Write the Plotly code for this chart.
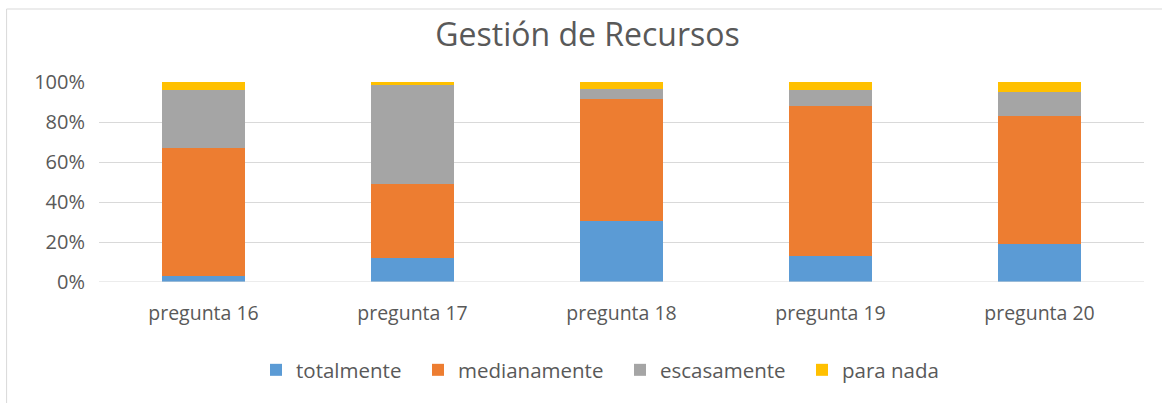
import plotly.graph_objects as go

categories = ["pregunta 16", "pregunta 17", "pregunta 18", "pregunta 19", "pregunta 20"]
totalmente = [0.03, 0.12, 0.305, 0.13, 0.19]
medianamente = [0.64, 0.37, 0.61, 0.75, 0.64]
escasamente = [0.29, 0.495, 0.05, 0.08, 0.12]
para_nada = [0.04, 0.015, 0.035, 0.04, 0.05]

series_names = ["totalmente", "medianamente", "escasamente", "para nada"]
series_values = [totalmente, medianamente, escasamente, para_nada]
series_colors = ["#5B9BD5", "#ED7D31", "#A5A5A5", "#FFC000"]
legend_entry_widths = [117, 157, 137, 100]

FONT = "Open Sans"
TXT = "#595959"

fig = go.Figure()
for name, vals, color, lw in zip(series_names, series_values, series_colors, legend_entry_widths):
    fig.add_trace(go.Bar(x=categories, y=vals, name=name, legendwidth=lw,
                         marker=dict(color=color, line=dict(width=0))))

W, H = 1162, 403
L, R, T, B = 98.5, 17.5, 82, 121
pw, ph = W - L - R, H - T - B

fig.update_layout(
    width=W, height=H,
    barmode="stack", bargap=0.6,
    margin=dict(l=L, r=R, t=T, b=B, pad=0, autoexpand=False),
    paper_bgcolor="white", plot_bgcolor="white",
    font=dict(family=FONT, color=TXT, size=16),
    title=dict(text="Gestión de Recursos", x=587.5 / W, xanchor="center",
               y=1 - 35 / H, yanchor="middle",
               font=dict(family=FONT, size=32, color=TXT)),
    legend=dict(orientation="h", x=(270 - 14) / W, xref="container", xanchor="left",
                y=(H - 370) / H, yref="container", yanchor="middle",
                font=dict(family=FONT, size=20.5, color=TXT),
                traceorder="normal", entrywidthmode="pixels"),
    showlegend=True,
)
fig.update_yaxes(range=[0, 1], tickvals=[0, 0.2, 0.4, 0.6, 0.8, 1.0],
                 tickformat=".0%", showgrid=True, gridcolor="#D9D9D9",
                 gridwidth=1, zeroline=False, showline=False, ticks="",
                 ticklabelstandoff=13, tickfont=dict(size=20, color=TXT), fixedrange=True)
fig.update_xaxes(showgrid=False, showline=False, ticks="", ticklabelstandoff=17,
                 tickfont=dict(size=19.5, color=TXT))
# bottom line at 0%
fig.add_shape(type="line", xref="paper", yref="y", x0=0, x1=1, y0=0, y1=0,
              line=dict(color="#D9D9D9", width=1))
# chart border (left and top edges visible)
bx = (6 - L) / pw
by_top = (H - B - 9) / ph
by_bot = (H - B - 410) / ph
fig.add_shape(type="line", xref="paper", yref="paper", x0=bx, x1=bx, y0=by_bot, y1=by_top,
              line=dict(color="#D9D9D9", width=1))
fig.add_shape(type="line", xref="paper", yref="paper", x0=bx, x1=(W - L) / pw + 0.05, y0=by_top, y1=by_top,
              line=dict(color="#D9D9D9", width=1))

fig.write_html("out.html", config={"displayModeBar": False},
               post_script="document.body.style.margin='0px';")
